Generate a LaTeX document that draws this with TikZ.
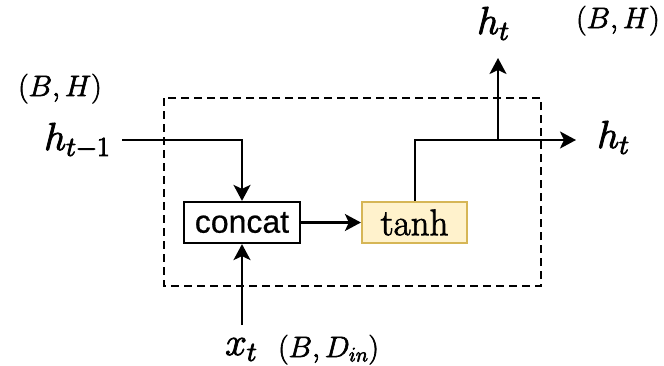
\RequirePackage{fix-cm}
\documentclass[tikz,border=0pt]{standalone}
\usepackage{fontspec}
\newfontfamily\sansf{Liberation Sans}
\usetikzlibrary{arrows.meta}
\definecolor{tanhfill}{HTML}{FFF2CC}
\definecolor{tanhdraw}{HTML}{D6B656}
\newcommand\heavytext[2]{\special{pdf:literal direct 2 Tr #1 w}#2\special{pdf:literal direct 0 Tr}}
\tikzset{
  conn/.style={line width=2.2pt, -{Stealth[length=16pt,width=17pt,inset=4pt]}},
  plain/.style={line width=2.2pt},
  lbl/.style={inner sep=0pt, anchor=base west, font=\fontsize{39}{44}\selectfont},
  dimlbl/.style={inner sep=0pt, anchor=base west, font=\fontsize{29.5}{34}\selectfont},
  boxstyle/.style={draw, line width=2.2pt, minimum width=116pt, minimum height=41pt, inner sep=0pt},
  tanhstyle/.style={draw=tanhdraw, fill=tanhfill, line width=2.2pt, minimum width=105pt, minimum height=41pt, inner sep=0pt},
}
\begin{document}
\begin{tikzpicture}[x=1pt,y=-1pt]
\useasboundingbox (0,0) rectangle (664,365);
% dashed frame
\draw[line width=2.2pt, dash pattern=on 8pt off 5pt] (164,98) rectangle (541,286);
% boxes
\node[boxstyle, font=\sansf\fontsize{32}{36}\selectfont] (concat) at (242,222.5) {\heavytext{0.2}{concat}};
\node[tanhstyle, font=\fontsize{37}{42}\selectfont] (tanh) at (414.5,222.5) {\heavytext{0.7}{$\tanh$}};
% labels
\node[dimlbl] (bhL) at (18,96) {\heavytext{0.65}{$(B,H)$}};
\node[lbl] (hprev) at (44,150) {\heavytext{0.9}{$h_{t-1}$}};
\node[lbl] (htop) at (477,34) {\heavytext{0.9}{$h_t$}};
\node[dimlbl] (bhR) at (576,28) {\heavytext{0.65}{$(B,H)$}};
\node[lbl] (hright) at (597,148) {\heavytext{0.9}{$h_t$}};
\node[lbl] (xt) at (225,355) {\heavytext{0.9}{$x_t$}};
\node[dimlbl] (bdin) at (278,357) {\heavytext{0.65}{$(B,D_{in})$}};
% coordinates
\coordinate (inL) at (122,140);
\coordinate (inB) at (242,325);
\coordinate (up) at (415,140);
\coordinate (br) at (498,140);
\coordinate (outR) at (576,140);
\coordinate (outT) at (498,58);
% connectors
\draw[conn] (inL) -| (concat.north);
\draw[conn] (inB) -- (concat.south);
\draw[conn] (concat.east) -- (tanh.west);
\draw[plain] (tanh.north -| up) -- (up) -- (br);
\draw[conn] (br) -- (outR);
\draw[conn] (br) -- (outT);
\end{tikzpicture}
\end{document}
